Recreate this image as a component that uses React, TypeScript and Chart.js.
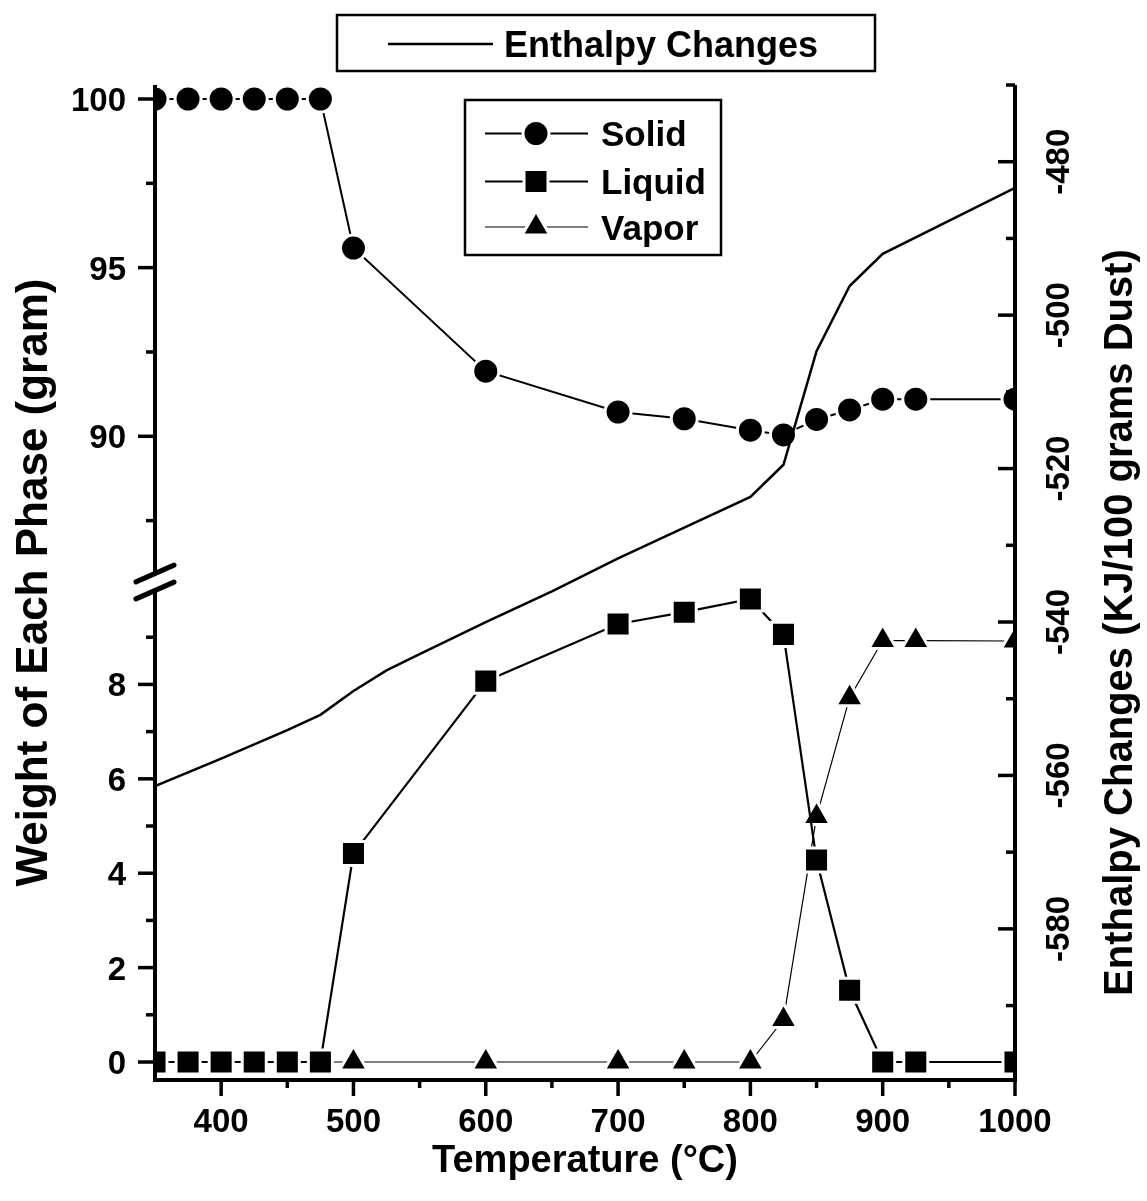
import React, { useEffect, useRef } from 'react';
import { Chart, registerables } from 'chart.js';

Chart.register(...registerables);

// Temperatures (°C) at which the phase weights were computed
const temperatures = [350, 375, 400, 425, 450, 475, 500, 600, 700, 750, 800, 825, 850, 875, 900, 925, 1000];
// Weight of each phase (gram)
const solidWeight = [100, 100, 100, 100, 100, 100, 95.58, 91.93, 90.72, 90.52, 90.18, 90.04, 90.5, 90.78, 91.1, 91.1, 91.1];
const liquidWeight = [0, 0, 0, 0, 0, 0, 4.42, 8.07, 9.28, 9.53, 9.81, 9.06, 4.28, 1.52, 0, 0, 0];
const vaporWeight = [0, 0, 0, 0, 0, 0, 0, 0, 0, 0, 0, 0.9, 5.2, 7.72, 8.93, 8.93, 8.92];

// Enthalpy changes (KJ/100 grams Dust)
const enthalpyTemps = [350, 400, 450, 475, 500, 525, 550, 600, 650, 700, 750, 800, 825, 850, 875, 900, 1000];
const enthalpyValues = [-561.4, -557.8, -554.1, -552.1, -549.0, -546.3, -544.2, -540.0, -536.0, -531.7, -527.7, -523.7, -519.5, -504.7, -496.2, -492.0, -483.4];

// Axis ticks
const tempTicks = [400, 500, 600, 700, 800, 900, 1000];
const tempMinorTicks = [450, 550, 650, 750, 850, 950];
const upperWeightTicks = [90, 95, 100];
const upperWeightMinor = [87.5, 92.5, 97.5];
const lowerWeightTicks = [0, 2, 4, 6, 8];
const lowerWeightMinor = [1, 3, 5, 7, 9];
const enthalpyTicks = [-580, -560, -540, -520, -500, -480];
const enthalpyMinor = [-590, -570, -550, -530, -510, -490, -470];

const FONT = '"Liberation Sans", Arial, Helvetica, sans-serif';
const W = 1147;
const H = 1201;

type Ctx = CanvasRenderingContext2D;

function seg(ctx: Ctx, x1: number, y1: number, x2: number, y2: number) {
  ctx.beginPath();
  ctx.moveTo(x1, y1);
  ctx.lineTo(x2, y2);
  ctx.stroke();
}

function drawSymbol(ctx: Ctx, kind: string, x: number, y: number) {
  ctx.save();
  ctx.fillStyle = '#000';
  ctx.strokeStyle = '#fff';
  ctx.lineWidth = 3;
  ctx.beginPath();
  if (kind === 'circle') {
    ctx.arc(x, y, 13, 0, Math.PI * 2);
  } else if (kind === 'rect') {
    ctx.rect(x - 12, y - 12, 24, 24);
  } else {
    const r = 16;
    ctx.moveTo(x, y - r);
    ctx.lineTo(x + r * 0.866, y + r / 2);
    ctx.lineTo(x - r * 0.866, y + r / 2);
    ctx.closePath();
  }
  ctx.fill();
  ctx.stroke();
  ctx.restore();
}

const framePlugin = {
  id: 'phaseFrame',
  beforeDraw(chart: any) {
    const ctx: Ctx = chart.ctx;
    ctx.save();
    ctx.fillStyle = '#fff';
    ctx.fillRect(0, 0, chart.width, chart.height);
    ctx.restore();
  },
  afterDraw(chart: any) {
    const ctx: Ctx = chart.ctx;
    const xs = chart.scales.x;
    const yt = chart.scales.yTop;
    const yb = chart.scales.yBot;
    const yr = chart.scales.yR;
    const area = chart.chartArea;
    const L = area.left;
    const R = area.right;
    const T = area.top;
    const B = area.bottom;
    const breakY = yt.bottom;

    ctx.save();
    ctx.strokeStyle = '#000';
    ctx.fillStyle = '#000';

    // axis lines, left axis interrupted at the break
    ctx.lineWidth = 4;
    ctx.lineCap = 'butt';
    seg(ctx, L, T, L, breakY - 8.5);
    seg(ctx, L, breakY + 8.5, L, B + 2);
    seg(ctx, L - 2, B, R + 2, B);
    seg(ctx, R, T, R, B + 2);

    // break marks
    ctx.lineWidth = 5;
    ctx.lineCap = 'round';
    for (const off of [-8.5, 8.5]) {
      seg(ctx, L - 19, breakY + off + 8.4, L + 19, breakY + off - 8.4);
    }
    ctx.lineCap = 'butt';

    // ticks
    ctx.lineWidth = 3.5;
    for (const v of upperWeightTicks) { const y = yt.getPixelForValue(v); seg(ctx, L - 17, y, L, y); }
    for (const v of upperWeightMinor) { const y = yt.getPixelForValue(v); seg(ctx, L - 9, y, L, y); }
    for (const v of lowerWeightTicks) { const y = yb.getPixelForValue(v); seg(ctx, L - 17, y, L, y); }
    for (const v of lowerWeightMinor) { const y = yb.getPixelForValue(v); seg(ctx, L - 9, y, L, y); }
    for (const v of tempTicks) { const x = xs.getPixelForValue(v); seg(ctx, x, B, x, B + 16); }
    for (const v of tempMinorTicks) { const x = xs.getPixelForValue(v); seg(ctx, x, B, x, B + 8); }
    for (const v of enthalpyTicks) { const y = yr.getPixelForValue(v); seg(ctx, R - 17, y, R, y); }
    for (const v of enthalpyMinor) { const y = yr.getPixelForValue(v); seg(ctx, R - 9, y, R, y); }

    // tick labels
    ctx.font = `bold 33px ${FONT}`;
    ctx.textBaseline = 'alphabetic';
    ctx.textAlign = 'right';
    for (const v of upperWeightTicks) ctx.fillText(String(v), L - 29, yt.getPixelForValue(v) + 12);
    for (const v of lowerWeightTicks) ctx.fillText(String(v), L - 29, yb.getPixelForValue(v) + 12);
    ctx.textAlign = 'center';
    for (const v of tempTicks) ctx.fillText(String(v), xs.getPixelForValue(v), B + 52);
    for (const v of enthalpyTicks) {
      ctx.save();
      ctx.translate(R + 42, yr.getPixelForValue(v));
      ctx.rotate(-Math.PI / 2);
      ctx.fillText(String(v), 0, 12);
      ctx.restore();
    }

    // axis titles
    ctx.textAlign = 'center';
    ctx.font = `bold 38px ${FONT}`;
    ctx.fillText('Temperature (°C)', (L + R) / 2, B + 92);
    ctx.font = `bold 44px ${FONT}`;
    ctx.save();
    ctx.translate(31, (T + B) / 2);
    ctx.rotate(-Math.PI / 2);
    ctx.fillText('Weight of Each Phase (gram)', 0, 15.5);
    ctx.restore();
    ctx.font = `bold 40px ${FONT}`;
    ctx.save();
    ctx.translate(1118, (T + B) / 2 + 40);
    ctx.rotate(-Math.PI / 2);
    ctx.fillText('Enthalpy Changes (KJ/100 grams Dust)', 0, 14);
    ctx.restore();

    // legend: enthalpy
    ctx.lineWidth = 2.5;
    ctx.strokeRect(337, 15, 538, 56);
    seg(ctx, 388, 44, 493, 44);
    ctx.font = `bold 36px ${FONT}`;
    ctx.textAlign = 'left';
    ctx.fillText('Enthalpy Changes', 504, 57);

    // legend: phases
    ctx.lineWidth = 2.5;
    ctx.strokeRect(465, 100, 256, 155);
    const items = [
      { label: 'Solid', kind: 'circle', y: 133.5, lw: 2 },
      { label: 'Liquid', kind: 'rect', y: 181.5, lw: 2.2 },
      { label: 'Vapor', kind: 'triangle', y: 227, lw: 1.2 },
    ];
    ctx.font = `bold 35px ${FONT}`;
    for (const it of items) {
      ctx.lineWidth = it.lw;
      seg(ctx, 485, it.y, 588, it.y);
      drawSymbol(ctx, it.kind, 536, it.y);
      ctx.fillStyle = '#000';
      ctx.fillText(it.label, 601, it.y + 12.5);
    }
    ctx.restore();
  },
};

export default function App() {
  const canvasRef = useRef<HTMLCanvasElement | null>(null);

  useEffect(() => {
    const canvas = canvasRef.current;
    if (!canvas) return;
    const pts = (xs: number[], ys: number[]) => xs.map((x, i) => ({ x, y: ys[i] }));

    const chart = new Chart(canvas, {
      type: 'line',
      data: {
        datasets: [
          {
            label: 'Enthalpy Changes',
            data: pts(enthalpyTemps, enthalpyValues),
            yAxisID: 'yR',
            borderColor: '#000',
            borderWidth: 2.5,
            pointRadius: 0,
            tension: 0,
            order: 0,
          },
          {
            label: 'Solid',
            data: pts(temperatures, solidWeight),
            yAxisID: 'yTop',
            borderColor: '#000',
            borderWidth: 2,
            pointStyle: 'circle',
            pointRadius: 13,
            pointBorderWidth: 3,
            pointBorderColor: '#fff',
            pointBackgroundColor: '#000',
            tension: 0,
            order: 1,
          },
          {
            label: 'Liquid',
            data: pts(temperatures, liquidWeight),
            yAxisID: 'yBot',
            borderColor: '#000',
            borderWidth: 2.2,
            pointStyle: 'rect',
            pointRadius: 17,
            pointBorderWidth: 3,
            pointBorderColor: '#fff',
            pointBackgroundColor: '#000',
            tension: 0,
            order: 2,
          },
          {
            label: 'Vapor',
            data: pts(temperatures, vaporWeight),
            yAxisID: 'yBot',
            borderColor: '#000',
            borderWidth: 1.2,
            pointStyle: 'triangle',
            pointRadius: 16,
            pointBorderWidth: 3,
            pointBorderColor: '#fff',
            pointBackgroundColor: '#000',
            tension: 0,
            order: 3,
          },
        ],
      },
      options: {
        animation: false,
        responsive: false,
        devicePixelRatio: 1,
        layout: { padding: { left: 155, top: 85, right: 132, bottom: 121 } },
        plugins: { legend: { display: false }, tooltip: { enabled: false } },
        events: [],
        scales: {
          x: { type: 'linear', min: 350, max: 1000, display: false },
          yTop: {
            type: 'linear', position: 'left', stack: 'weight', stackWeight: 497, weight: 1,
            min: 85.68, max: 100.415, display: false,
          },
          yBot: {
            type: 'linear', position: 'left', stack: 'weight', stackWeight: 498, weight: 0,
            min: -0.381, max: 10.17, display: false,
          },
          yR: { type: 'linear', position: 'right', min: -599.7, max: -470, display: false },
        },
      } as any,
      plugins: [framePlugin],
    });
    return () => chart.destroy();
  }, []);

  return (
    <div style={{ position: 'absolute', left: 0, top: 0, width: W, height: H, background: '#fff' }}>
      <canvas ref={canvasRef} width={W} height={H} style={{ width: W, height: H, display: 'block' }} />
    </div>
  );
}
